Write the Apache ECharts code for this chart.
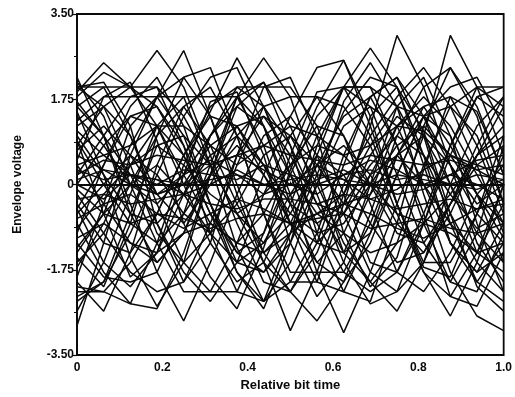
<!DOCTYPE html>
<html>
<head>
<meta charset="utf-8">
<script src="https://cdn.jsdelivr.net/npm/echarts@6/dist/echarts.min.js"></script>
<style>
html,body{margin:0;padding:0;background:#fff;}
#chart{width:515px;height:397px;}
</style>
</head>
<body>
<div id="chart"></div>
<script>
// sample positions (relative bit time)
const sampleTimes = [0, 0.0625, 0.125, 0.1875, 0.25, 0.3125, 0.375, 0.4375, 0.5, 0.5625, 0.625, 0.6875, 0.75, 0.8125, 0.875, 0.9375, 1.0];
// tick labels
const yTicks = [-3.5, -1.75, 0, 1.75, 3.5];
const xTicks = [0, 0.2, 0.4, 0.6, 0.8, 1.0];

// envelope voltage traces
const trace01 = [2.0, 2.1, 1.2, -0.8, -2.0, -1.2, 0.6, 2.0, 2.2, 1.0, -1.0, -2.1, -1.5, 0.3, 1.8, 1.5, 0.2];
const trace02 = [1.9, 2.5, 2.0, 2.0, 0.8, -1.0, -2.2, -2.4, -1.0, 0.8, 2.0, 1.6, 0.2, -1.2, -2.0, -1.0, 0.8];
const trace03 = [1.5, 0.2, -1.5, -2.5, -1.6, 0.2, 1.8, 2.1, 0.8, -1.0, -2.2, -2.4, -0.8, 1.2, 2.4, 1.4, -0.4];
const trace04 = [-2.9, -1.2, 0.6, 1.8, 2.75, 1.4, -0.2, -1.6, -3.0, -1.8, -0.2, 1.2, 3.06, 2.0, 0.4, -1.2, -2.0];
const trace05 = [0.3, 0.1, 0.2, 0.0, 0.3, 0.2, 0.1, 0.4, 0.2, 0.0, 0.2, 0.3, 0.1, 0.2, 0.0, 0.2, 0.1];
const trace06 = [-0.3, -0.2, -0.4, -0.3, -0.2, -0.4, -0.5, -0.3, -0.3, -0.4, -0.2, -0.3, -0.5, -0.4, -0.3, -0.5, -0.4];
const trace07 = [0.9, -0.6, -1.9, -1.4, 0.2, 1.7, 1.9, 0.6, -1.2, -2.3, -1.6, 0.0, 1.6, 2.2, 1.0, -0.8, -2.2];
const trace08 = [-1.5, -2.1, -0.8, 1.0, 2.2, 2.4, 1.0, -0.6, -2.0, -2.0, -0.4, 1.4, 2.0, 1.1, -0.6, -2.1, -2.6];
const trace09 = [-1.9, -0.4, 1.2, 1.8, 1.8, 0.4, -1.3, -2.4, -1.6, 0.0, 1.7, 2.5, 1.6, -0.2, -1.8, -2.7, -3.0];
const trace10 = [0.5, 1.8, 2.1, 0.9, -0.8, -1.9, -2.55, -1.3, 0.3, 1.6, 2.55, 1.4, -0.4, -1.7, -1.9, -0.6, 1.0];
const trace11 = [-0.8, -1.8, -2.45, -1.2, 0.4, 1.5, 2.6, 1.6, 0.2, -1.2, -1.4, -0.2, 1.2, 1.6, 0.8, -0.2, -1.1];
const trace12 = [1.3, 1.8, 1.8, 1.8, 1.0, -0.4, -1.6, -1.8, -1.0, 0.2, 1.5, 2.2, 2.0, 0.6, -1.2, -2.0, -1.2];
const trace13 = [-2.3, -2.0, -0.6, 0.8, 1.0, 0.4, -0.6, -1.2, -0.6, 0.4, 0.8, 0.2, -0.8, -1.4, -0.6, 0.6, 1.6];
const trace14 = [2.0, 1.6, 0.4, -1.0, -1.6, -1.0, 0.4, 1.6, 1.8, 1.8, 1.6, 0.8, -0.6, -1.8, -2.3, -1.4, 0.0];
const trace15 = [-2.1, -2.2, -2.45, -2.55, -1.4, 0.2, 1.6, 2.1, 1.2, -0.2, -1.6, -2.45, -2.2, -0.8, 0.8, 2.0, 2.0];
const trace16 = [0.0, 0.8, 1.4, 1.2, 0.2, -0.8, -1.2, -0.6, 0.4, 1.2, 1.0, 0.0, -1.0, -1.2, -0.4, 0.6, 1.2];
const trace17 = [1.0, 0.2, -0.6, -0.8, -0.2, 0.6, 1.0, 0.4, -0.4, -0.8, -0.4, 0.4, 1.0, 0.6, -0.2, -0.9, -0.6];
const trace18 = [-1.0, 0.4, 1.6, 2.2, 1.2, -0.4, -1.8, -2.55, -1.2, 0.6, 2.0, 2.0, 0.8, -0.6, -2.3, -2.5, -1.4];
const trace19 = [1.7, 1.0, -0.4, -1.8, -2.8, -1.6, -0.2, 1.0, 1.4, 0.6, -0.6, -1.8, -2.2, -1.6, -0.4, 0.8, 1.8];
const trace20 = [-0.5, -1.6, -2.1, -1.4, -0.2, 1.0, 1.8, 1.2, -0.2, -1.8, -3.04, -1.8, -0.4, 1.0, 3.06, 2.0, 0.6];
const trace21 = [0.2, 0.5, 0.4, 0.6, 0.5, 0.4, 0.6, 0.8, 0.6, 0.5, 0.4, 0.6, 0.5, 0.4, 0.5, 0.3, 0.4];
const trace22 = [-0.1, -0.6, -0.8, -0.6, -0.7, -0.9, -0.7, -0.6, -0.8, -0.7, -0.6, -0.9, -0.8, -0.7, -0.9, -1.0, -0.8];
const trace23 = [2.1, 1.4, 0.0, -1.2, -2.2, -2.2, -2.2, -1.0, 0.6, 1.9, 2.0, 1.0, -0.4, -1.6, -1.6, -0.6, 0.6];
const trace24 = [-1.2, -1.9, -2.0, -1.8, -0.6, 1.0, 2.0, 2.0, 2.0, 1.2, -0.2, -1.6, -1.8, -0.8, 0.6, 1.8, 2.0];
const trace25 = [1.6, 2.0, 1.0, -0.2, -0.8, 0.0, 1.0, 1.6, 0.8, -0.4, -1.4, -1.0, 0.2, 1.4, 2.0, 2.2, 1.2];
const trace26 = [-1.7, -0.8, 0.4, 1.2, 0.6, -0.6, -1.8, -2.4, -2.0, -1.0, 0.6, 1.8, 2.2, 1.4, 0.0, -1.4, -1.8];
const trace27 = [0.7, 1.2, 0.6, -0.2, 0.0, 0.8, 1.2, 0.4, -0.8, -1.6, -1.0, 0.2, 0.6, 0.0, -0.8, -1.4, -0.4];
const trace28 = [-0.6, 0.0, 0.6, 0.2, -0.6, -1.0, -0.4, 0.6, 1.0, 0.4, -0.4, -0.2, 0.6, 1.0, 0.4, -0.6, -1.2];
const trace29 = [1.2, 1.6, 2.0, 2.75, 2.0, 0.6, -0.8, -2.0, -2.2, -1.2, 0.4, 1.8, 2.2, 1.0, -0.8, -2.0, -2.4];
const trace30 = [-2.6, -1.6, -0.2, 1.2, 1.8, 1.8, 1.8, 0.8, -0.8, -2.0, -2.2, -1.0, 0.6, 1.6, 1.8, 0.8, -0.6];
const trace31 = [0.4, -0.4, -1.2, -1.6, -1.0, 0.2, 1.2, 1.4, 0.6, -0.4, -0.6, 0.2, 1.2, 1.8, 1.2, 0.2, -0.8];
const trace32 = [-0.4, -1.2, -1.4, -0.6, 0.6, 1.4, 1.2, 0.2, -0.8, -1.2, -0.6, 0.6, 1.4, 1.0, 0.0, -1.0, -1.6];
const trace33 = [1.8, 2.3, 2.0, 1.2, 0.0, -1.2, -2.0, -1.6, -0.4, 1.0, 2.0, 2.8, 2.0, 0.4, -1.2, -1.8, -0.8];
const trace34 = [-1.4, -0.6, 0.8, 1.8, 2.2, 1.4, 0.0, -1.4, -2.2, -2.8, -2.0, -0.6, 1.0, 2.0, 2.4, 1.6, 0.2];
const trace35 = [0.0, -0.3, 0.2, 0.1, -0.2, 0.0, 0.3, 0.0, -0.2, 0.1, 0.3, 0.0, -0.2, -0.1, 0.2, 0.0, -0.3];
const trace36 = [0.6, 0.3, 0.0, -0.2, 0.2, 0.5, 0.2, -0.2, 0.0, 0.4, 0.1, -0.3, -0.1, 0.3, 0.6, 0.3, 0.0];
const trace37 = [-2.0, -2.6, -1.4, 0.4, 1.6, 2.0, 1.0, -0.6, -1.8, -1.8, -1.8, -0.8, 0.6, 1.4, 1.0, -0.2, -1.6];
const trace38 = [1.1, 0.6, 0.8, 1.2, 1.2, 0.8, 0.4, 0.8, 1.2, 1.0, 0.6, 0.8, 1.2, 1.1, 0.6, 0.4, 0.8];
const trace39 = [-1.1, -0.8, -1.2, -1.4, -1.0, -0.8, -1.2, -1.4, -1.0, -0.6, -1.0, -1.4, -1.2, -0.8, -1.0, -1.4, -1.2];
const trace40 = [2.2, 1.0, -0.6, -1.6, -1.0, 0.4, 1.8, 2.6, 1.8, 0.2, -1.4, -2.0, -1.2, 0.4, 1.6, 1.0, -0.4];
const trace41 = [-2.4, -2.0, -1.0, 0.2, 1.4, 2.2, 2.4, 1.2, -0.4, -1.6, -2.0, -1.2, 0.2, 1.4, 1.6, 2.0, 1.6];
const trace42 = [0.8, 1.6, 1.0, -0.4, -1.6, -2.2, -1.2, 0.2, 1.4, 2.4, 2.55, 1.2, -0.4, -1.8, -2.7, -1.6, 0.0];
const trace43 = [0.2, 1.0, 1.8, 2.0, 1.4, 0.4, -0.6, -1.6, -2.2, -1.4, 0.0, 1.0, 1.8, 2.4, 1.6, 0.4, -1.0];
const trace44 = [-0.2, -1.0, -1.8, -2.2, -2.0, -0.8, 0.6, 1.4, 1.0, 0.0, -1.2, -2.0, -2.6, -1.6, 0.0, 1.2, 1.8];
const trace45 = [1.4, 0.8, 0.0, -0.4, 0.2, 1.0, 1.6, 1.2, 0.2, -0.6, -0.2, 0.8, 1.6, 1.4, 0.4, -0.4, 0.0];
const trace46 = [-1.3, -0.6, 0.0, 0.4, -0.2, -1.0, -1.6, -1.2, -0.2, 0.6, 0.2, -0.8, -1.6, -1.4, -0.4, 0.4, 0.2];
const trace47 = [0.1, 0.3, 0.2, 0.1, 0.0, 0.1, 0.2, 0.0, 0.1, 0.2, 0.1, 0.0, 0.2, 0.1, 0.0, -0.1, 0.1];
const trace48 = [-0.5, 0.4, 1.4, 1.6, 0.8, -0.4, -1.4, -1.8, -1.2, 0.0, 1.2, 1.6, 1.2, 0.0, -1.2, -1.8, -1.4];
const trace49 = [2.0, 2.0, 2.0, 1.6, 0.6, -0.6, -1.4, -1.0, 0.2, 1.4, 2.0, 2.0, 1.6, 0.6, -0.6, -1.6, -2.2];
const trace50 = [-2.2, -2.2, -1.6, -0.6, 0.6, 1.6, 2.0, 1.6, 0.4, -0.8, -1.8, -2.2, -1.8, -0.6, 0.8, 1.8, 1.4];
const trace51 = [0.9, 0.0, -0.8, -1.2, -0.6, 0.2, 0.8, 0.2, -0.6, -1.0, -0.8, 0.0, 0.8, 1.2, 0.6, -0.2, -0.8];
const trace52 = [-0.9, -0.2, 0.4, 0.8, 0.4, -0.2, -0.6, -0.2, 0.4, 0.8, 0.6, 0.0, -0.6, -0.8, -0.2, 0.6, 1.0];
const trace53 = [1.6, 1.0, 0.2, -0.8, -1.8, -2.4, -1.6, -0.2, 1.0, 1.8, 1.0, -0.4, -1.8, -2.2, -1.4, -0.2, 0.4];
const trace54 = [-1.6, -1.0, 0.0, 1.0, 1.6, 0.8, -0.4, -1.4, -0.8, 0.4, 1.4, 1.8, 0.8, -0.8, -2.0, -2.2, -1.0];
const trace55 = [0.4, 0.6, 0.2, -0.2, 0.0, 0.4, 0.6, 0.3, 0.0, -0.2, 0.2, 0.5, 0.3, 0.0, 0.2, 0.5, 0.6];
const trace56 = [-0.7, -0.4, -0.2, -0.6, -0.9, -0.6, -0.3, -0.5, -0.8, -0.6, -0.4, -0.6, -0.9, -1.1, -0.8, -0.5, -0.3];

const traces = [trace01, trace02, trace03, trace04, trace05, trace06, trace07, trace08, trace09, trace10,
  trace11, trace12, trace13, trace14, trace15, trace16, trace17, trace18, trace19, trace20,
  trace21, trace22, trace23, trace24, trace25, trace26, trace27, trace28, trace29, trace30,
  trace31, trace32, trace33, trace34, trace35, trace36, trace37, trace38, trace39, trace40,
  trace41, trace42, trace43, trace44, trace45, trace46, trace47, trace48, trace49, trace50,
  trace51, trace52, trace53, trace54, trace55, trace56];

const chart = echarts.init(document.getElementById('chart'), null, {renderer: 'canvas'});
const fontFam = '"Liberation Sans", Arial, sans-serif';

const series = traces.map((t, i) => ({
  type: 'line',
  name: 'trace' + (i + 1),
  data: t.map((v, k) => [sampleTimes[k], v]),
  showSymbol: false,
  symbol: 'none',
  silent: true,
  lineStyle: {color: '#0a0a0a', width: 1.5},
  clip: true,
  z: 2
}));

chart.setOption({
  animation: false,
  backgroundColor: '#fff',
  grid: {left: 77, right: 11, top: 14, bottom: 42, show: true, borderColor: '#0a0a0a', borderWidth: 1.8, backgroundColor: 'transparent'},
  xAxis: {
    type: 'value', min: 0, max: 1, interval: 0.2,
    name: 'Relative bit time', nameLocation: 'middle', nameGap: 20,
    nameTextStyle: {color: '#0a0a0a', fontFamily: fontFam, fontSize: 13, fontWeight: 'bold'},
    axisLine: {show: true, lineStyle: {color: '#0a0a0a', width: 1.8}},
    axisTick: {show: true, inside: true, length: 4, lineStyle: {color: '#0a0a0a', width: 1.2}},
    minorTick: {show: true, splitNumber: 2, length: 3, lineStyle: {color: '#0a0a0a'}},
    splitLine: {show: false},
    axisLabel: {color: '#0a0a0a', fontFamily: fontFam, fontSize: 12, fontWeight: 'bold', margin: 7,
      formatter: v => (v === 0 ? '0' : v.toFixed(1))}
  },
  yAxis: {
    type: 'value', min: -3.5, max: 3.5, interval: 1.75,
    name: 'Envelope voltage', nameLocation: 'middle', nameGap: 53,
    nameTextStyle: {color: '#0a0a0a', fontFamily: fontFam, fontSize: 12, fontWeight: 'bold'},
    axisLine: {show: true, lineStyle: {color: '#0a0a0a', width: 1.8}},
    axisTick: {show: true, inside: false, length: 5, lineStyle: {color: '#0a0a0a', width: 1.2}},
    minorTick: {show: true, splitNumber: 2, length: 3, lineStyle: {color: '#0a0a0a'}},
    splitLine: {show: false},
    axisLabel: {color: '#0a0a0a', fontFamily: fontFam, fontSize: 12, fontWeight: 'bold', margin: 3,
      formatter: v => (v === 0 ? '0' : v.toFixed(2))}
  },
  series: series
});
</script>
</body>
</html>
